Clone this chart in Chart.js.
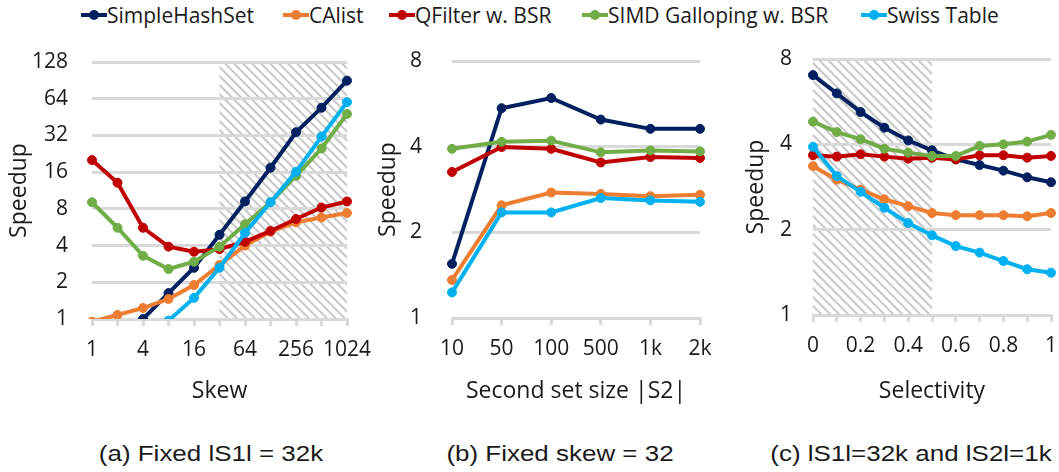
<!DOCTYPE html>
<html>
<head>
<meta charset="utf-8">
<script src="https://cdn.jsdelivr.net/npm/chart.js@4.4.1/dist/chart.umd.min.js"></script>
<style>
  body { margin: 0; background: #fff; width: 1059px; height: 472px; position: relative; overflow: hidden;
         font-family: "Open Sans", sans-serif; color: #1a1a1a; }
  canvas { position: absolute; top: 40px; }
  .leg { position: absolute; top: 0; height: 30px; display: flex; align-items: center; font-size: 21px; white-space: nowrap; }
  .mk { position: relative; width: 26px; height: 4px; }
  .mk span { position: absolute; left: 8px; top: -3px; width: 10px; height: 10px; border-radius: 50%; }
  .cap { position: absolute; top: 441px; line-height: 26px; font-family: "Liberation Sans", Arial, sans-serif; font-size: 22px;
         white-space: nowrap; transform: translateX(-50%) scaleX(1.18); }
</style>
</head>
<body>
<canvas id="chartA" width="380" height="370" style="left:0px"></canvas>
<canvas id="chartB" width="360" height="370" style="left:360px"></canvas>
<canvas id="chartC" width="339" height="370" style="left:720px"></canvas>
<div class="cap" style="left:211px">(a) Fixed lS1l = 32k</div>
<div class="cap" style="left:560px">(b) Fixed skew = 32</div>
<div class="cap" style="left:911px">(c) lS1l=32k and lS2l=1k</div>
<script>
const seriesNames = ['SimpleHashSet', 'CAlist', 'QFilter w. BSR', 'SIMD Galloping w. BSR', 'Swiss Table'];
const seriesColors = ['#002060', '#ED7D31', '#C00000', '#70AD47', '#00B0F0'];

// (a) fixed |S1| = 32k, x = skew
const skewLabels = ['1', '2', '4', '8', '16', '32', '64', '128', '256', '512', '1024'];
const simpleA = [0.4, 0.62, 1.0, 1.63, 2.63, 4.9, 9.2, 17.4, 34, 54, 90];
const calistA = [0.95, 1.08, 1.23, 1.46, 1.9, 2.77, 4.0, 5.2, 6.2, 6.8, 7.4];
const qfilterA = [20.1, 13.1, 5.6, 3.92, 3.56, 3.74, 4.3, 5.27, 6.6, 8.2, 9.2];
const simdA = [9.06, 5.6, 3.3, 2.57, 2.95, 3.92, 5.98, 9.06, 14.9, 25, 48];
const swissA = [0.12, 0.24, 0.48, 0.97, 1.49, 2.63, 5.07, 9.06, 16.1, 31.3, 60];
const ticksA = [1, 2, 4, 8, 16, 32, 64, 128];

// (b) fixed skew = 32, x = |S2|
const sizeLabels = ['10', '50', '100', '500', '1k', '2k'];
const simpleB = [1.55, 5.46, 5.93, 4.98, 4.62, 4.62];
const calistB = [1.36, 2.49, 2.76, 2.73, 2.68, 2.71];
const qfilterB = [3.26, 3.99, 3.93, 3.52, 3.68, 3.65];
const simdB = [3.93, 4.16, 4.2, 3.82, 3.88, 3.85];
const swissB = [1.23, 2.35, 2.35, 2.64, 2.59, 2.56];
const ticksB = [1, 2, 4, 8];

// (c) |S1| = 32k, |S2| = 1k, x = selectivity
const selLabels = ['0', '0.1', '0.2', '0.3', '0.4', '0.5', '0.6', '0.7', '0.8', '0.9', '1'];
const simpleC = [7.02, 6.05, 5.2, 4.58, 4.13, 3.81, 3.54, 3.38, 3.23, 3.06, 2.94];
const calistC = [3.35, 3.0, 2.77, 2.56, 2.42, 2.29, 2.25, 2.25, 2.25, 2.23, 2.29];
const qfilterC = [3.66, 3.62, 3.69, 3.62, 3.56, 3.59, 3.54, 3.66, 3.66, 3.59, 3.64];
const simdC = [4.81, 4.42, 4.17, 3.86, 3.74, 3.64, 3.64, 3.95, 4.0, 4.09, 4.32];
const swissC = [3.92, 3.09, 2.72, 2.39, 2.11, 1.91, 1.75, 1.66, 1.55, 1.45, 1.41];
const ticksC = [1, 2, 4, 8];

// legend, marker left edges in px
const legendLeft = [81, 283, 389, 582, 861];
seriesNames.forEach((name, i) => {
  const d = document.createElement('div');
  d.className = 'leg';
  d.style.left = legendLeft[i] + 'px';
  d.innerHTML = `<div class="mk" style="background:${seriesColors[i]}"><span style="background:${seriesColors[i]}"></span></div>`;
  d.appendChild(document.createTextNode(name));
  document.body.appendChild(d);
});

const GRID = '#D9D9D9';
const TEXT = '#1a1a1a';

const hatch = (from, to) => ({
  id: 'hatch',
  beforeDraw(chart) {
    const { ctx, chartArea: a, scales: { x } } = chart;
    const x0 = x.getPixelForValue(from), x1 = x.getPixelForValue(to);
    const h = a.bottom - a.top;
    ctx.save();
    ctx.beginPath();
    ctx.rect(x0, a.top, x1 - x0, h);
    ctx.clip();
    ctx.beginPath();
    ctx.strokeStyle = '#C9C9C9';
    ctx.lineWidth = 2;
    for (let s = x0 - h; s < x1 + 2; s += 9) {
      ctx.moveTo(s, a.top);
      ctx.lineTo(s + h, a.bottom);
    }
    ctx.stroke();
    ctx.restore();
  },
});

function makeChart(id, labels, series, yMax, yTicks, g, xTitle, labelStep, plugins) {
  return new Chart(document.getElementById(id), {
    type: 'line',
    plugins,
    data: {
      labels,
      datasets: series.map((data, i) => ({
        label: seriesNames[i],
        data,
        borderColor: seriesColors[i],
        backgroundColor: seriesColors[i],
        borderWidth: 4,
        pointRadius: 4.5,
        pointBorderWidth: 1,
        tension: 0,
        order: series.length - i,
        clip: { left: 8, top: 8, right: 8, bottom: 0 },
      })),
    },
    options: {
      responsive: false,
      animation: false,
      devicePixelRatio: 1,
      layout: { padding: { left: 0, top: g.top, right: g.right, bottom: 0 } },
      scales: {
        x: {
          offset: false,
          grid: { drawOnChartArea: false, drawTicks: true, tickLength: 7, lineWidth: 3, color: GRID, offset: false },
          border: { display: true, width: 3, color: GRID },
          ticks: {
            autoSkip: false, maxRotation: 0, padding: 11, color: TEXT,
            font: { family: 'Open Sans', size: 21 },
            callback: (v, i) => (i % labelStep === 0 ? labels[i] : ''),
          },
          title: { display: true, text: xTitle, color: TEXT, font: { family: 'Open Sans', size: 23 }, padding: { top: 0, bottom: 5 } },
          afterFit: (s) => { s.height = g.xh; s.paddingLeft = 0; s.paddingRight = 0; },
        },
        y: {
          type: 'logarithmic',
          min: 1,
          max: yMax,
          grid: { drawTicks: false, lineWidth: 3, color: GRID },
          border: { display: false },
          ticks: { padding: g.tickPad, color: TEXT, font: { family: 'Open Sans', size: 21 }, callback: (v) => String(v) },
          title: { display: true, text: 'Speedup', color: TEXT, font: { family: 'Open Sans', size: 23 }, padding: { top: g.titlePad, bottom: 0 } },
          afterBuildTicks: (s) => { s.ticks = yTicks.map((v) => ({ value: v })); },
          afterFit: (s) => { s.width = g.yw; s.paddingTop = 0; s.paddingBottom = 0; },
        },
      },
      plugins: {
        legend: { display: false },
        tooltip: { enabled: false },
      },
    },
  });
}

makeChart('chartA', skewLabels, [simpleA, calistA, qfilterA, simdA, swissA], 128, ticksA,
  { top: 22, right: 33, yw: 92, xh: 91, tickPad: 24, titlePad: 6 }, 'Skew', 2, [hatch(5, 10)]);
makeChart('chartB', sizeLabels, [simpleB, calistB, qfilterB, simdB, swissB], 8, ticksB,
  { top: 21, right: 20, yw: 92, xh: 92, tickPad: 30, titlePad: 15 }, 'Second set size |S2|', 1, []);
makeChart('chartC', selLabels, [simpleC, calistC, qfilterC, simdC, swissC], 8, ticksC,
  { top: 19, right: 8, yw: 93, xh: 95, tickPad: 21, titlePad: 23 }, 'Selectivity', 2, [hatch(0, 5)]);
</script>
</body>
</html>
